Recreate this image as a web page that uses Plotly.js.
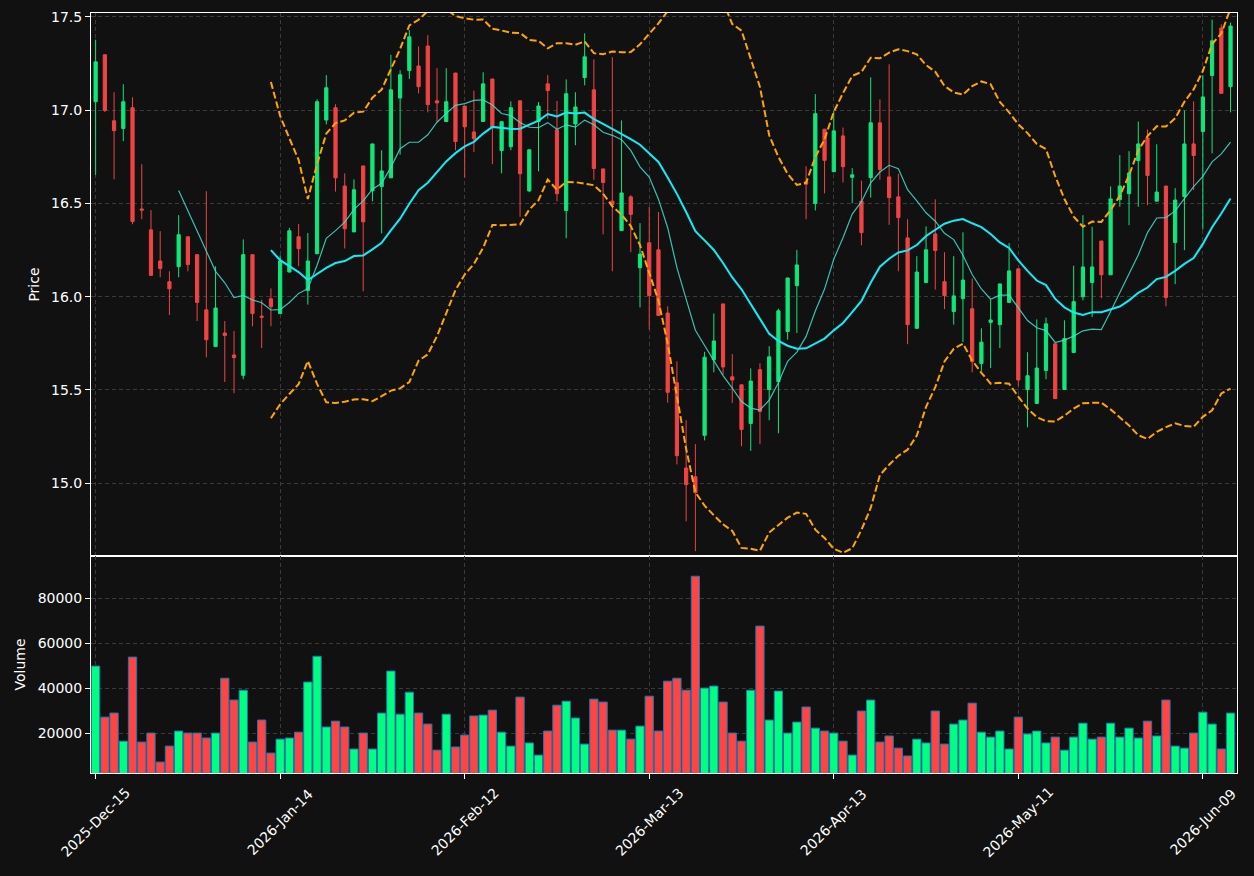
<!DOCTYPE html>
<html><head><meta charset="utf-8">
<script src="https://cdn.plot.ly/plotly-3.0.1.min.js"></script>
<style>html,body{margin:0;padding:0;background:#111111;}</style>
</head><body><div id="chart" style="width:1254px;height:876px;"></div>
<script>
const tickPositions = [0, 20, 40, 60, 80, 100, 120];
const tickLabels = ['2025-Dec-15','2026-Jan-14','2026-Feb-12','2026-Mar-13','2026-Apr-13','2026-May-11','2026-Jun-09'];

const openP = [17.045,17.297,16.943,16.902,17.013,16.470,16.358,16.191,16.080,16.161,
16.321,16.225,15.929,15.732,15.805,15.687,15.578,16.225,15.895,15.988,
15.909,16.132,16.321,16.033,16.230,16.947,17.013,16.593,16.347,16.701,
16.567,16.590,16.637,17.065,17.212,17.237,17.344,17.050,16.939,17.199,
17.022,16.883,16.939,17.167,16.783,16.804,17.050,16.567,16.939,17.141,
16.894,16.462,16.926,17.175,17.109,16.685,16.512,16.354,16.535,16.155,
16.289,16.251,15.912,15.538,15.081,15.034,15.256,15.662,15.961,15.570,
15.527,15.320,15.608,15.502,15.544,15.813,16.059,16.616,16.499,16.898,
16.670,16.862,16.640,16.512,16.638,16.932,16.642,16.535,16.315,15.830,
16.076,16.336,16.080,15.920,15.989,15.935,15.641,15.862,15.850,15.969,
16.149,15.502,15.427,15.604,15.747,15.502,15.700,15.999,16.076,16.298,
16.117,16.520,16.552,16.729,16.851,16.512,16.593,16.290,16.537,16.819,
16.885,17.186,17.440,17.126];
const highP = [17.378,17.300,17.096,17.139,17.069,16.710,16.464,16.351,16.136,16.437,
16.321,16.225,16.565,16.163,15.869,15.816,16.307,16.225,15.984,16.044,
16.221,16.369,16.390,16.341,17.058,17.188,17.032,16.661,16.629,16.701,
16.820,16.785,17.297,17.214,17.429,17.342,17.402,17.225,17.225,17.200,
17.022,17.105,17.203,17.167,16.940,17.047,17.050,16.790,17.043,17.188,
17.049,17.165,17.096,17.412,17.272,16.685,17.284,16.945,16.544,16.394,
16.482,16.454,15.948,15.653,15.337,15.209,15.704,15.910,15.961,15.692,
15.527,15.615,15.643,15.734,15.935,16.100,16.251,16.699,17.086,16.898,
16.996,16.907,16.689,16.622,17.176,17.058,17.246,16.659,16.415,16.217,
16.377,16.522,16.238,16.217,16.345,16.097,15.830,15.982,16.070,16.287,
16.150,15.702,15.878,15.888,15.750,15.873,16.166,16.437,16.375,16.300,
16.591,16.759,16.780,16.939,16.896,16.817,16.593,16.582,16.998,17.047,
17.188,17.485,17.460,17.470];
const lowP = [16.653,16.990,16.629,16.834,16.388,16.415,16.114,16.104,15.901,16.104,
16.136,15.869,15.675,15.730,15.542,15.482,15.557,15.841,15.724,15.841,
15.909,16.130,16.163,15.957,16.230,16.924,16.563,16.258,16.347,16.029,
16.511,16.339,16.637,16.761,17.167,17.090,16.988,16.936,16.939,16.785,
16.638,16.776,16.939,16.710,16.661,16.785,16.428,16.560,16.672,16.954,
16.511,16.313,16.812,17.133,16.627,16.334,16.136,16.354,16.238,15.942,
15.824,15.899,15.431,15.100,14.795,14.635,15.229,15.594,15.581,15.429,
15.198,15.173,15.209,15.337,15.267,15.769,15.805,16.415,16.462,16.554,
16.670,16.612,16.501,16.275,16.531,16.627,16.385,16.136,15.745,15.830,
16.076,16.038,15.933,15.850,15.756,15.594,15.600,15.617,15.724,15.969,
15.519,15.299,15.427,15.557,15.453,15.502,15.700,15.980,15.890,15.991,
16.117,16.482,16.383,16.482,16.490,16.512,15.948,16.067,16.249,16.571,
16.360,16.768,17.090,16.988];
const closeP = [17.259,16.998,16.890,17.045,16.403,16.464,16.114,16.151,16.042,16.332,
16.172,15.969,15.769,15.939,15.792,15.673,16.225,15.909,15.890,15.946,
16.191,16.353,16.257,16.191,17.045,17.120,16.637,16.364,16.573,16.401,
16.819,16.674,17.109,17.190,17.393,17.126,17.030,17.039,17.045,16.832,
16.911,16.847,17.141,16.909,16.938,17.013,16.659,16.787,17.022,17.105,
16.552,17.088,17.017,17.286,16.687,16.612,16.494,16.556,16.441,16.228,
16.006,15.899,15.487,15.147,14.992,14.949,15.675,15.762,15.623,15.553,
15.288,15.547,15.384,15.677,15.924,16.100,16.170,16.603,16.981,16.731,
16.889,16.697,16.653,16.343,16.932,16.682,16.531,16.424,15.850,16.132,
16.251,16.247,16.006,16.004,16.089,15.651,15.756,15.875,16.068,16.138,
15.553,15.576,15.617,15.854,15.453,15.775,15.973,16.159,16.159,16.117,
16.524,16.593,16.663,16.819,16.650,16.561,15.995,16.518,16.819,16.757,
17.071,17.372,17.090,17.451];
const volume = [49800,27100,28900,16400,53800,16000,20000,7100,14200,20900,
20000,20000,17800,20000,44400,34700,39100,16000,25800,11100,
17300,17800,20400,42700,54200,22700,25300,22700,12900,20000,
12900,28900,47600,28400,38200,28900,24000,12400,28400,13800,
19100,27600,28000,30200,20400,14200,36000,15600,10200,20900,
32400,34200,26700,15100,35100,33800,21300,21300,17300,23100,
36400,20900,43100,44400,39100,89800,40000,40900,33800,20000,
16400,39100,67600,25800,38700,20000,24900,31600,22200,20900,
20000,16400,10200,29800,34700,16000,18700,13300,9800,17300,
15600,29800,15100,24000,25800,33300,20400,18200,20900,12900,
27100,19600,20900,15600,18200,12400,18200,24400,17300,18200,
24400,18200,22200,17800,25300,18700,34700,14200,13300,20000,
29300,24000,12900,28900];

const idx = closeP.map((_, i) => i);
function sma(arr, n) {
  return arr.map((_, i) => {
    if (i < n - 1) return null;
    let s = 0; for (let k = i - n + 1; k <= i; k++) s += arr[k];
    return s / n;
  });
}
function rstd(arr, n) {
  const m = sma(arr, n);
  return arr.map((_, i) => {
    if (i < n - 1) return null;
    let s = 0; for (let k = i - n + 1; k <= i; k++) s += (arr[k] - m[i]) ** 2;
    return Math.sqrt(s / n);
  });
}
const ma10 = sma(closeP, 10);
const ma20 = sma(closeP, 20);
const sd20 = rstd(closeP, 20);
const bbUp = ma20.map((m, i) => m === null ? null : m + 2 * sd20[i]);
const bbLo = ma20.map((m, i) => m === null ? null : m - 2 * sd20[i]);

const UP_C = '#10e67a', DN_C = '#ef4444';
const VUP = '#00ff80', VDN = '#ff4444';
const volColors = closeP.map((c, i) => c >= openP[i] ? VUP : VDN);

const traces = [
  {type:'candlestick', x: idx, open: openP, high: highP, low: lowP, close: closeP,
   xaxis:'x', yaxis:'y', whiskerwidth:0,
   increasing:{line:{color:UP_C, width:1}, fillcolor:UP_C},
   decreasing:{line:{color:DN_C, width:1}, fillcolor:DN_C}, hoverinfo:'skip'},
  {type:'scatter', mode:'lines', x: idx, y: ma10, xaxis:'x', yaxis:'y',
   line:{color:'rgba(64,224,208,0.85)', width:1.2}},
  {type:'scatter', mode:'lines', x: idx, y: ma20, xaxis:'x', yaxis:'y',
   line:{color:'#14ecf5', width:2}},
  {type:'scatter', mode:'lines', x: idx, y: bbUp, xaxis:'x', yaxis:'y',
   line:{color:'#ffa500', width:2, dash:'7px,3px'}},
  {type:'scatter', mode:'lines', x: idx, y: bbLo, xaxis:'x', yaxis:'y',
   line:{color:'#ffa500', width:2, dash:'7px,3px'}},
  {type:'bar', x: idx, y: volume, xaxis:'x2', yaxis:'y2', width:0.9,
   marker:{color: volColors, line:{color:'#1f77b4', width:1}}}
];

const gridC = '#3a3a3a';
const common = {showgrid:true, gridcolor:gridC, griddash:'4px,3px', gridwidth:1,
  showline:true, mirror:true, linecolor:'#ffffff', linewidth:1, zeroline:false,
  tickcolor:'#ffffff', ticklen:5, tickwidth:1, tickfont:{size:14, color:'#ffffff'}};

const annotations = tickPositions.map((p, i) => ({
  x: p, xref:'x2', y: -0.0645, yref:'paper', text: tickLabels[i],
  textangle: -45, xanchor:'center', yanchor:'middle', showarrow:false,
  font:{family:'DejaVu Sans, sans-serif', size:14, color:'#ffffff'}
}));

const layout = {
  width:1254, height:876,
  paper_bgcolor:'#111111', plot_bgcolor:'#111111',
  margin:{l:91, r:17, t:13, b:103},
  font:{family:'DejaVu Sans, sans-serif', size:14, color:'#ffffff'},
  showlegend:false, boxgap:0.5, bargap:0.1,
  annotations: annotations,
  xaxis: Object.assign({}, common, {domain:[0,1], anchor:'y', range:[-0.5,123.7],
    rangeslider:{visible:false}, tickvals: tickPositions, showticklabels:false, ticks:''}),
  yaxis: Object.assign({}, common, {domain:[0.2855,1], anchor:'x', range:[14.609,17.521],
    tickvals:[15,15.5,16,16.5,17,17.5], tickformat:'.1f', ticks:'outside',
    title:{text:'Price', font:{size:14, color:'#ffffff'}, standoff:8}}),
  xaxis2: Object.assign({}, common, {domain:[0,1], anchor:'y2', matches:'x', range:[-0.5,123.7],
    tickvals: tickPositions, showticklabels:false, ticks:'outside'}),
  yaxis2: Object.assign({}, common, {domain:[0,0.2855], anchor:'x2', range:[2222,98800],
    tickvals:[20000,40000,60000,80000], tickformat:'d', ticks:'outside',
    title:{text:'Volume', font:{size:14, color:'#ffffff'}, standoff:8}})
};

Plotly.newPlot('chart', traces, layout, {displayModeBar:false, staticPlot:true});
</script></body></html>
